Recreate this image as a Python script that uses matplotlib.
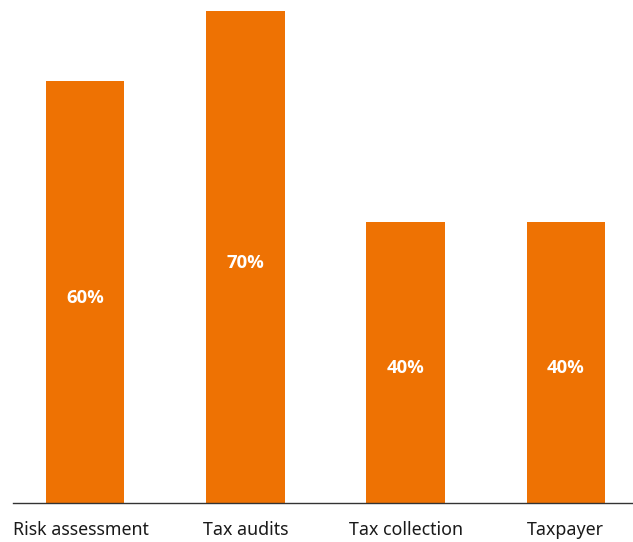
import matplotlib
matplotlib.use("Agg")
import matplotlib.pyplot as plt
import matplotlib.transforms as mtransforms

categories = ["Risk assessment", "Tax audits", "Tax collection", "Taxpayer"]
values = [60, 70, 40, 40]
value_labels = ["60%", "70%", "40%", "40%"]

BAR_COLOR = "#EE7203"

fig = plt.figure(figsize=(6.33, 5.42), dpi=100)
ax = fig.add_axes([13 / 633, 39 / 542, 620 / 633, 503 / 542])

x = range(len(categories))
bars = ax.bar(x, values, width=0.49, color=BAR_COLOR, zorder=2)

for bar, v, lab in zip(bars, values, value_labels):
    ax.annotate(lab, (bar.get_x() + bar.get_width() / 2, v / 2),
                xytext=(0, -4), textcoords="offset points",
                ha="center", va="center", color="white",
                fontsize=13.3, fontweight="bold", family="Open Sans")

ax.set_xlim(-0.449, 3.419)
ax.set_ylim(0, 71.6)
ax.set_xticks(list(x))
ax.set_xticklabels(categories, fontsize=12.8, family="Noto Sans", color="#1a1a1a")
ax.tick_params(axis="x", length=0, pad=13)
ax.set_yticks([])
for side in ("top", "right", "left"):
    ax.spines[side].set_visible(False)
ax.spines["bottom"].set_color("#333333")
ax.spines["bottom"].set_linewidth(1.0)

# keep the first label inside the left edge
first = ax.get_xticklabels()[0]
first.set_transform(first.get_transform() +
                    mtransforms.ScaledTranslation(-4 / 100, 0, fig.dpi_scale_trans))

fig.savefig("out.png", dpi=100)
